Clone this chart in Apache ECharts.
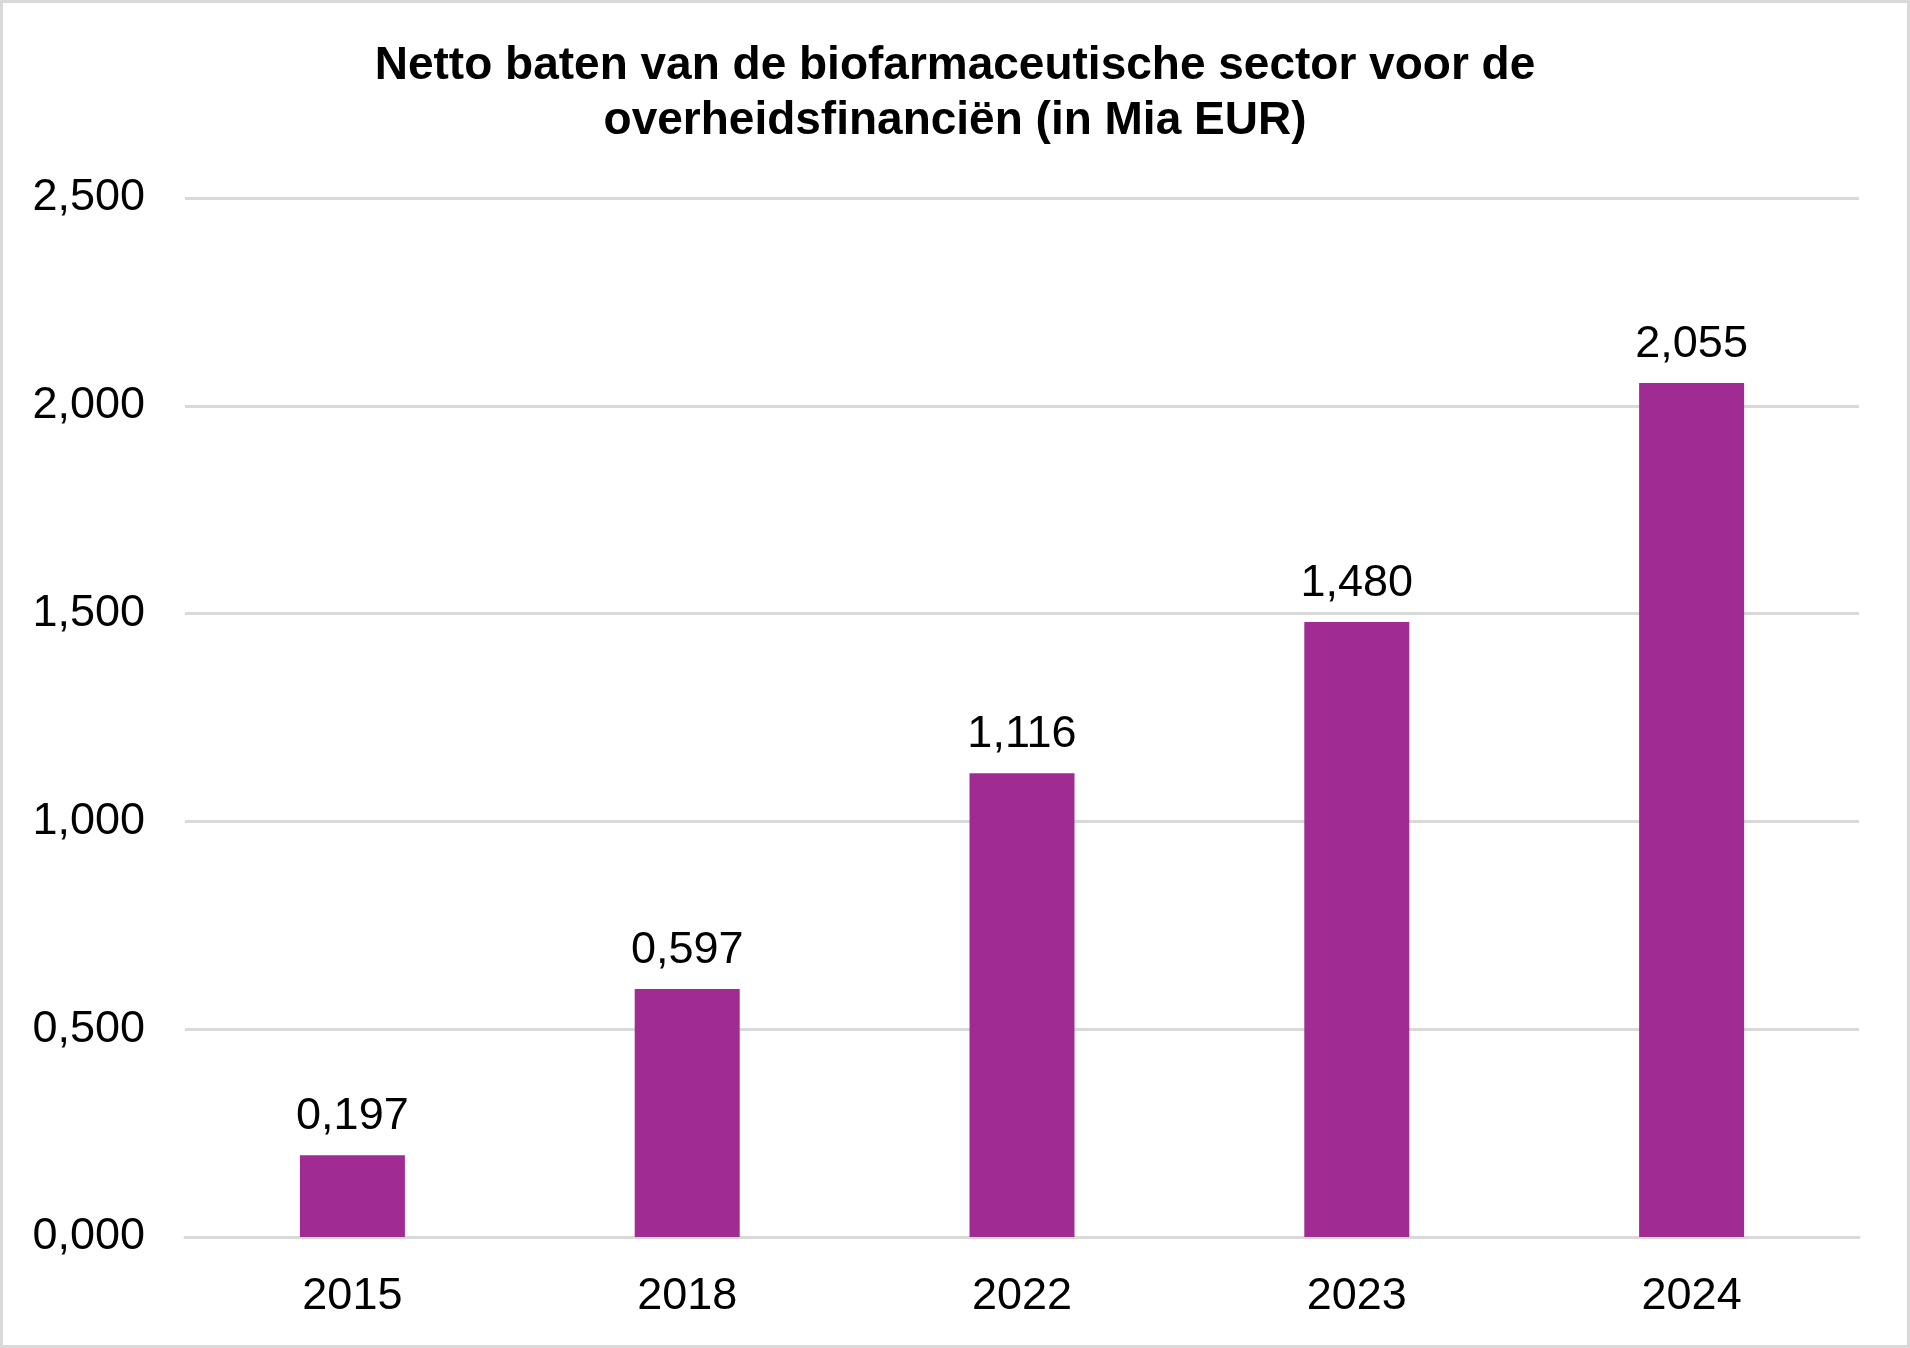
<!DOCTYPE html>
<html><head><meta charset="utf-8">
<script src="https://cdn.jsdelivr.net/npm/echarts@6/dist/echarts.min.js"></script>
<style>
html,body{margin:0;padding:0;background:#fff;}
#c{width:1910px;height:1348px;box-sizing:border-box;border:3px solid #d9d9d9;}
</style></head>
<body><div id="c"></div>
<script>
const categories = ['2015','2018','2022','2023','2024'];
const values = [0.197, 0.597, 1.116, 1.480, 2.055];
const titleText = 'Netto baten van de biofarmaceutische sector voor de\noverheidsfinanciën (in Mia EUR)';
const fmt = v => Number(v).toFixed(3).replace('.', ',');
const chart = echarts.init(document.getElementById('c'), null, {renderer:'canvas'});
const F = '"Liberation Sans", Arial, sans-serif';
chart.setOption({
  animation:false,
  title:{text:titleText,left:'center',top:31,textStyle:{fontFamily:F,fontSize:46,fontWeight:'bold',color:'#000',lineHeight:55}},
  grid:{left:182,right:48,top:195,bottom:108,containLabel:false},
  xAxis:{type:'category',data:categories,axisTick:{show:false},
    axisLine:{lineStyle:{color:'#d9d9d9',width:3}},
    axisLabel:{fontFamily:F,fontSize:45,color:'#000',margin:37}},
  yAxis:{type:'value',min:0,max:2.5,interval:0.5,
    axisLine:{show:false},axisTick:{show:false},
    splitLine:{lineStyle:{color:'#d9d9d9',width:3}},
    axisLabel:{fontFamily:F,fontSize:45,color:'#000',margin:40,padding:[8,0,0,0],formatter:fmt}},
  series:[{type:'bar',data:values,barWidth:105,itemStyle:{color:'#a02b93'},
    label:{show:true,position:'top',distance:16,fontFamily:F,fontSize:45,color:'#000',formatter:p=>fmt(p.value)}}]
});
</script></body></html>
